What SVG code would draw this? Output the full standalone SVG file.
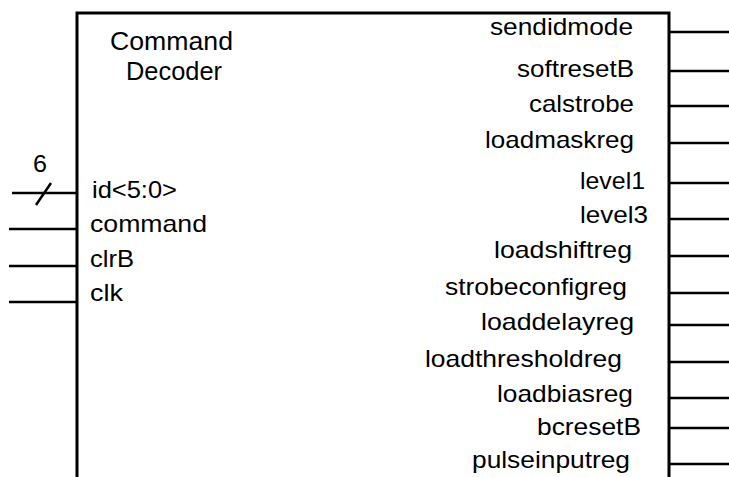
<svg xmlns="http://www.w3.org/2000/svg" width="729" height="477" viewBox="0 0 729 477">
<style>
.lbl{font-family:"Liberation Sans",Arial,sans-serif;font-size:24px;fill:#000}
.ttl{font-family:"Liberation Sans",Arial,sans-serif;font-size:25px;fill:#000}
.w{stroke:#000;stroke-width:2.5;fill:none}
.box{stroke:#000;stroke-width:3;fill:none}
</style>
<rect width="729" height="477" fill="#fff"/>
<g id="decoder">
<path class="box" d="M77,477 V13 H669 V477"/>
<text class="ttl" x="110" y="50" textLength="123" lengthAdjust="spacingAndGlyphs">Command</text>
<text class="ttl" x="126" y="80" textLength="96" lengthAdjust="spacingAndGlyphs">Decoder</text>
<text class="lbl" x="92" y="198" textLength="85" lengthAdjust="spacingAndGlyphs">id&lt;5:0&gt;</text>
<text class="lbl" x="90" y="232" textLength="117" lengthAdjust="spacingAndGlyphs">command</text>
<text class="lbl" x="90" y="267" textLength="44" lengthAdjust="spacingAndGlyphs">clrB</text>
<text class="lbl" x="90" y="301" textLength="33" lengthAdjust="spacingAndGlyphs">clk</text>
<text class="lbl" x="490" y="35" textLength="143" lengthAdjust="spacingAndGlyphs">sendidmode</text>
<text class="lbl" x="517" y="77" textLength="117" lengthAdjust="spacingAndGlyphs">softresetB</text>
<text class="lbl" x="529" y="112" textLength="105" lengthAdjust="spacingAndGlyphs">calstrobe</text>
<text class="lbl" x="485" y="148" textLength="149" lengthAdjust="spacingAndGlyphs">loadmaskreg</text>
<text class="lbl" x="580" y="189" textLength="65" lengthAdjust="spacingAndGlyphs">level1</text>
<text class="lbl" x="580" y="223" textLength="68" lengthAdjust="spacingAndGlyphs">level3</text>
<text class="lbl" x="494" y="258" textLength="138" lengthAdjust="spacingAndGlyphs">loadshiftreg</text>
<text class="lbl" x="445" y="295" textLength="182" lengthAdjust="spacingAndGlyphs">strobeconfigreg</text>
<text class="lbl" x="481" y="330" textLength="153" lengthAdjust="spacingAndGlyphs">loaddelayreg</text>
<text class="lbl" x="425" y="367" textLength="197" lengthAdjust="spacingAndGlyphs">loadthresholdreg</text>
<text class="lbl" x="497" y="402" textLength="136" lengthAdjust="spacingAndGlyphs">loadbiasreg</text>
<text class="lbl" x="537" y="435" textLength="104" lengthAdjust="spacingAndGlyphs">bcresetB</text>
<text class="lbl" x="472" y="468" textLength="158" lengthAdjust="spacingAndGlyphs">pulseinputreg</text>
</g>
<g id="connectors">
<line class="w" x1="12" y1="193" x2="77" y2="193"/>
<line class="w" x1="36" y1="205" x2="51" y2="183"/>
<text class="lbl" x="33" y="172" textLength="14" lengthAdjust="spacingAndGlyphs">6</text>
<line class="w" x1="9" y1="229" x2="77" y2="229"/>
<line class="w" x1="9" y1="266" x2="77" y2="266"/>
<line class="w" x1="9" y1="302" x2="77" y2="302"/>
<line class="w" x1="669" y1="32" x2="729" y2="32"/>
<line class="w" x1="669" y1="71" x2="729" y2="71"/>
<line class="w" x1="669" y1="106" x2="729" y2="106"/>
<line class="w" x1="669" y1="143" x2="729" y2="143"/>
<line class="w" x1="669" y1="183" x2="729" y2="183"/>
<line class="w" x1="669" y1="219" x2="729" y2="219"/>
<line class="w" x1="669" y1="256" x2="729" y2="256"/>
<line class="w" x1="669" y1="293" x2="729" y2="293"/>
<line class="w" x1="669" y1="325" x2="729" y2="325"/>
<line class="w" x1="669" y1="362" x2="729" y2="362"/>
<line class="w" x1="669" y1="398" x2="729" y2="398"/>
<line class="w" x1="669" y1="428" x2="729" y2="428"/>
<line class="w" x1="669" y1="464" x2="729" y2="464"/>
</g>
</svg>
